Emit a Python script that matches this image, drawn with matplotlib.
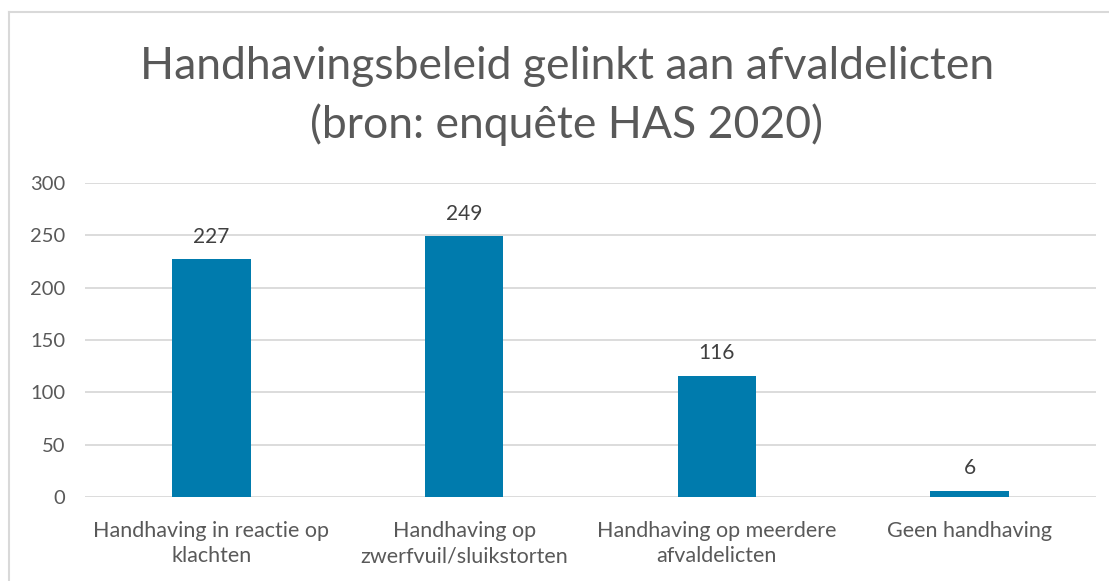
import matplotlib
matplotlib.use("Agg")
import matplotlib.pyplot as plt
from matplotlib.lines import Line2D

categories = ["Handhaving in reactie op\nklachten", "Handhaving op\nzwerfvuil/sluikstorten",
              "Handhaving op meerdere\nafvaldelicten", "Geen handhaving"]
values = [227, 249, 116, 6]
yticks = [0, 50, 100, 150, 200, 250, 300]
title = "Handhavingsbeleid gelinkt aan afvaldelicten\n(bron: enquête HAS 2020)"

plt.rcParams['font.family'] = ['Lato', 'DejaVu Sans']
txt = '#595959'
fig = plt.figure(figsize=(11.09, 5.81), dpi=100)
ax = fig.add_axes([85/1109, 1-497/581, (1096-85)/1109, (497-183)/581])
x = list(range(len(categories)))
bars = ax.bar(x, values, width=0.31, color='#007BAD', zorder=3)
ax.set_xlim(-0.5, 3.5)
ax.set_ylim(0, 300)
ax.set_yticks(yticks)
ax.set_yticklabels([str(t) for t in yticks], fontsize=14.5, color=txt)
ax.set_xticks(x)
ax.set_xticklabels(categories, fontsize=15.5, color=txt, linespacing=1.35)
ax.tick_params(length=0, pad=17)
ax.tick_params(axis='y', pad=14)
ax.grid(axis='y', color='#D9D9D9', linewidth=1.3, zorder=0)
for s in ax.spines.values():
    s.set_visible(False)
for b, v in zip(bars, values):
    ax.annotate(str(v), (b.get_x() + b.get_width()/2, v), xytext=(0, 9),
                textcoords='offset points', ha='center', va='bottom', fontsize=15, color='#404040')
fig.text(567/1109, 1-96/581, title, ha='center', va='center', fontsize=32, color=txt, linespacing=1.5)
fig.add_artist(Line2D([9/1109, 9/1109], [0, 1-12/581], color='#D9D9D9', lw=1.5, transform=fig.transFigure))
fig.add_artist(Line2D([9/1109, 1], [1-12/581, 1-12/581], color='#D9D9D9', lw=1.5, transform=fig.transFigure))
fig.savefig('out.png', dpi=100, facecolor='white')
